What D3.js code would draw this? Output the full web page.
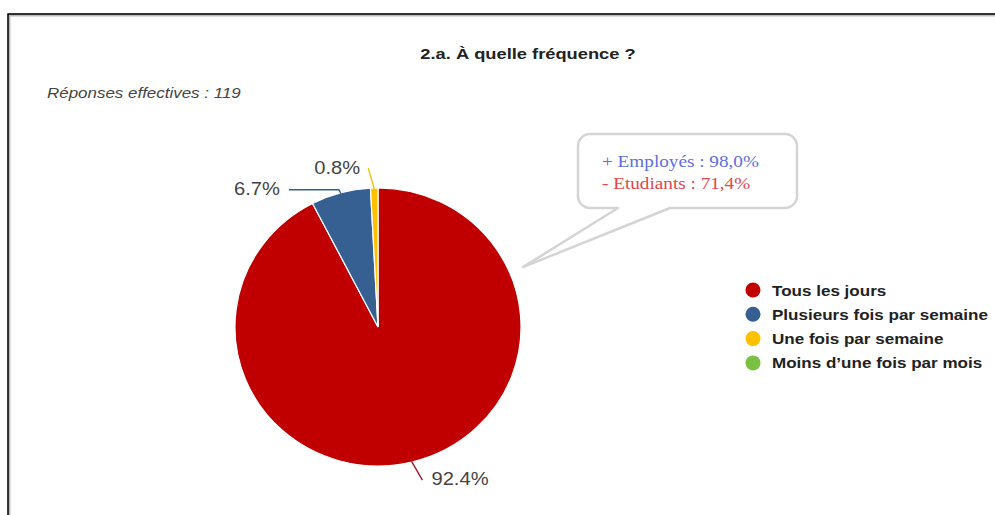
<!DOCTYPE html>
<html>
<head>
<meta charset="utf-8">
<script src="https://cdn.jsdelivr.net/npm/d3@7"></script>
<style>
  html, body { margin: 0; padding: 0; background: #fff; }
  svg { display: block; }
</style>
</head>
<body>
<svg id="chart" width="995" height="515"></svg>
<script>
// Survey answers to "2.a. À quelle fréquence ?" (119 responses)
const categories = ["Tous les jours", "Plusieurs fois par semaine", "Une fois par semaine", "Moins d'une fois par mois"];
const counts = [110, 8, 1, 0];
const colors = ["#c00000", "#366092", "#ffc000", "#7ac143"];
const totalResponses = 119;
const calloutLines = ["+ Employés : 98,0%", "- Etudiants : 71,4%"];
const calloutColors = ["#5b6ee0", "#e0464c"];

const svg = d3.select("#chart");
const SANS = "Arial, 'Liberation Sans', sans-serif";

// Text helper: the chart's type is drawn slightly widened
function label(parent, x, y, txt, opts) {
  const o = Object.assign({ sx: 1.13, anchor: "start", size: 15, weight: "normal", style: "normal", fill: "#222", family: SANS }, opts);
  return parent.append("g")
    .attr("transform", `translate(${x},${y}) scale(${o.sx},1)`)
    .append("text")
    .attr("text-anchor", o.anchor)
    .attr("font-family", o.family)
    .attr("font-size", o.size)
    .attr("font-weight", o.weight)
    .attr("font-style", o.style)
    .attr("fill", o.fill)
    .text(txt);
}

// Frame around the chart
svg.append("path")
  .attr("d", "M9,515 V15 H995")
  .attr("fill", "none").attr("stroke", "#bbb").attr("stroke-width", 3);
svg.append("path")
  .attr("d", "M8,515 V14 H995")
  .attr("fill", "none").attr("stroke", "#000").attr("stroke-width", 1.5);

// Title and response count
label(svg, 528, 59, "2.a. À quelle fréquence ?", { anchor: "middle", size: 15.5, weight: "bold", sx: 1.18 });
label(svg, 47, 98, "Réponses effectives : " + totalResponses, { style: "italic", fill: "#444", sx: 1.13 });

// Pie (drawn a touch wider than tall)
const cx = 378, cy = 327, r = 139, sxPie = 1.029;
const pie = d3.pie().sort(null).value(d => d)(counts);
const arc = d3.arc().innerRadius(0).outerRadius(r);
const g = svg.append("g").attr("transform", `translate(${cx},${cy})`);
const gp = g.append("g").attr("transform", `scale(${sxPie},1)`);

gp.selectAll("path.slice")
  .data(pie.filter(d => d.value > 0))
  .join("path")
  .attr("class", "slice")
  .attr("d", arc)
  .attr("fill", d => colors[d.index])
  .attr("stroke", "#fff").attr("stroke-width", 1.2);

// Percent labels with leader lines
const fmt = v => (v / totalResponses * 100).toFixed(1) + "%";
const pt = (a, rad) => [Math.sin(a) * rad * sxPie, -Math.cos(a) * rad];

// per-slice leader layout: elbow offset and label placement relative to the arc edge
const leaderLayout = [
  { elbow: (p) => [p[0] + 11, p[1] + 19], anchor: "start", text: (p) => [p[0] + 20, p[1] + 24] },
  { elbow: (p) => [p[0] - 2, p[1] - 4], tail: (p) => [p[0] - 52, p[1] - 4], anchor: "end", text: (p) => [p[0] - 61, p[1] + 1] },
  { elbow: (p) => [p[0] - 6, p[1] - 21], anchor: "end", text: (p) => [p[0] - 14, p[1] - 15] }
];
const lineColors = ["#9b1c2c", "#366092", "#f2c21b"];

pie.filter(d => d.value > 0).forEach(d => {
  const mid = (d.startAngle + d.endAngle) / 2;
  const p = pt(mid, r - 1);
  const L = leaderLayout[d.index];
  const pts = [p, L.elbow(p)];
  if (L.tail) pts.push(L.tail(p));
  g.append("path")
    .attr("d", d3.line()(pts))
    .attr("fill", "none")
    .attr("stroke", lineColors[d.index]).attr("stroke-width", 1.4);
  const t = L.text(p);
  label(g, t[0], t[1], fmt(d.value), { anchor: L.anchor, size: 18, fill: "#444", sx: 1.12 });
});

// Legend
const legend = svg.append("g").attr("transform", "translate(753,290)");
categories.forEach((c, i) => {
  const row = legend.append("g").attr("transform", `translate(0,${i * 24.3})`);
  row.append("circle").attr("r", 7.5).attr("fill", colors[i]);
  label(row, 19, 5.5, c.replace("'", "’"), { weight: "bold", size: 15, sx: 1.137 });
});

// Speech-bubble callout pointing at the main slice
const bx = 578, by = 134, bw = 219, bh = 74, br = 12;
const tip = pt(Math.PI * 0.372, r + 14);
const bubble = d3.path();
bubble.moveTo(bx + br, by);
bubble.lineTo(bx + bw - br, by);
bubble.arcTo(bx + bw, by, bx + bw, by + br, br);
bubble.lineTo(bx + bw, by + bh - br);
bubble.arcTo(bx + bw, by + bh, bx + bw - br, by + bh, br);
bubble.lineTo(bx + 92, by + bh);
bubble.lineTo(cx + tip[0], cy + tip[1]);
bubble.lineTo(bx + 40, by + bh);
bubble.lineTo(bx + br, by + bh);
bubble.arcTo(bx, by + bh, bx, by + bh - br, br);
bubble.lineTo(bx, by + br);
bubble.arcTo(bx, by, bx + br, by, br);
bubble.closePath();
svg.append("path")
  .attr("d", bubble.toString())
  .attr("fill", "#fff")
  .attr("stroke", "#d4d4d4").attr("stroke-width", 2.5)
  .attr("stroke-linejoin", "round");

calloutLines.forEach((txt, i) => {
  label(svg, 602, 167 + i * 22, txt, {
    family: "'Liberation Serif', 'DejaVu Serif', serif",
    size: 17, fill: calloutColors[i], sx: 1.13
  });
});
</script>
</body>
</html>
